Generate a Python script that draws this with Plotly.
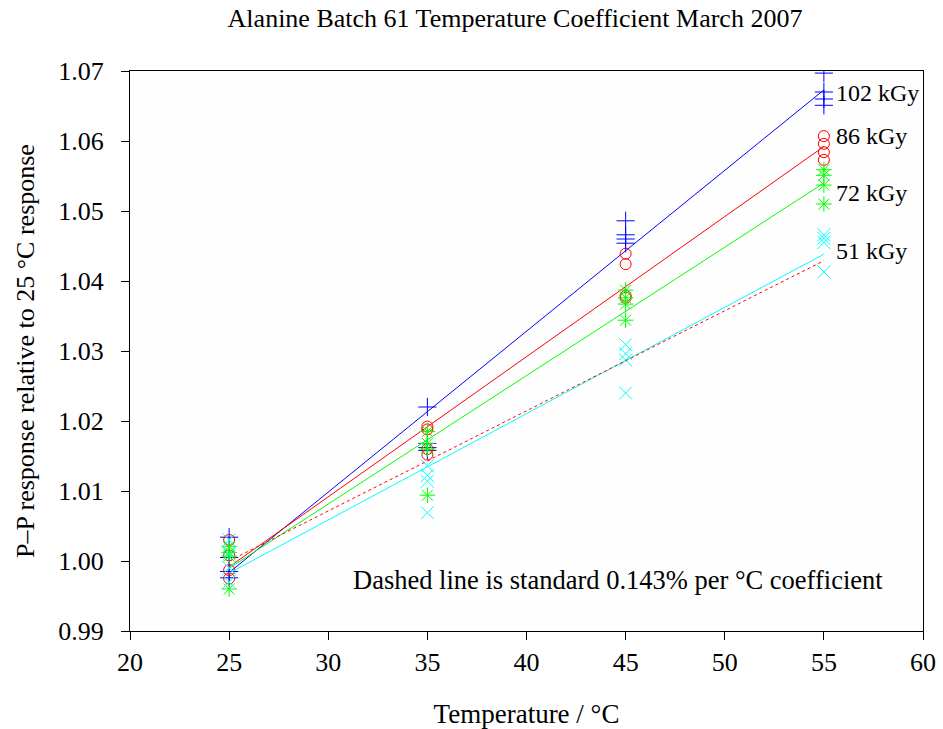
import numpy as np
import plotly.graph_objects as go

# Measurement temperatures (°C), four dosimeters at each
temps = [25, 25, 25, 25, 35, 35, 35, 35, 45, 45, 45, 45, 55, 55, 55, 55]

# Peak-to-peak response relative to the 25 °C mean, per dose level
resp_102 = [1.0034, 1.0005, 0.9985, 0.9976,
            1.0220, 1.0168, 1.0162, 1.0158,
            1.0486, 1.0466, 1.0460, 1.0454,
            1.0697, 1.0670, 1.0660, 1.0651]
resp_86 = [1.0030, 1.0008, 0.9987, 0.9975,
           1.0192, 1.0188, 1.0160, 1.0152,
           1.0439, 1.0424, 1.0379, 1.0376,
           1.0607, 1.0596, 1.0584, 1.0573]
resp_72 = [1.0021, 1.0012, 1.0007, 0.9960,
           1.0185, 1.0168, 1.0160, 1.0094,
           1.0387, 1.0376, 1.0367, 1.0344,
           1.0559, 1.0551, 1.0537, 1.0510]
resp_51 = [1.0030, 1.0010, 0.9990, 0.9970,
           1.0136, 1.0122, 1.0114, 1.0069,
           1.0309, 1.0296, 1.0287, 1.0240,
           1.0466, 1.0461, 1.0455, 1.0413]

dose_labels = ["102 kGy", "86 kGy", "72 kGy", "51 kGy"]
label_y = [1.0668, 1.0607, 1.0526, 1.0443]
colors = ["#0000ff", "#ff0000", "#00ff00", "#00ffff"]
symbols = ["cross-thin-open", "circle-open", "asterisk-open", "x-thin-open"]
marker_sizes = [13, 11, 13, 13]

std_coeff = 0.00143  # standard 0.143% per °C
fit_range = [25, 55]

x_ticks = [20, 25, 30, 35, 40, 45, 50, 55, 60]
y_ticks = [0.99, 1.00, 1.01, 1.02, 1.03, 1.04, 1.05, 1.06, 1.07]
y_tick_text = ["0.99", "1.00", "1.01", "1.02", "1.03", "1.04", "1.05", "1.06", "1.07"]

FONT = "Liberation Serif"

fig = go.Figure()

series = [resp_102, resp_86, resp_72, resp_51]
for resp, col, sym, ms in zip(series, colors, symbols, marker_sizes):
    slope, icpt = np.polyfit(temps, resp, 1)
    fx = np.array(fit_range, dtype=float)
    fig.add_trace(go.Scatter(x=fx, y=icpt + slope * fx, mode="lines",
                             line=dict(color=col, width=1), showlegend=False,
                             hoverinfo="skip"))
    fig.add_trace(go.Scatter(x=temps, y=resp, mode="markers",
                             marker=dict(symbol=sym, size=ms, color=col,
                                         line=dict(color=col, width=1)),
                             showlegend=False))

sx = np.array(fit_range, dtype=float)
fig.add_trace(go.Scatter(x=sx, y=1 + std_coeff * (sx - 25), mode="lines",
                         line=dict(color="#ff0000", width=1, dash="3px,3px"),
                         showlegend=False, hoverinfo="skip"))

for txt, yv in zip(dose_labels, label_y):
    fig.add_annotation(x=55.5, y=yv, text=txt, showarrow=False,
                       xanchor="left", yanchor="middle",
                       font=dict(family=FONT, size=24, color="black"))

fig.add_annotation(x=0.279, xref="x domain", y=0.9973, yref="y",
                   text="Dashed line is standard 0.143% per °C coefficient",
                   showarrow=False, xanchor="left", yanchor="middle",
                   font=dict(family=FONT, size=26.5, color="black"))

fig.update_layout(
    width=943, height=729,
    margin=dict(l=130, r=20, t=71, b=98),
    paper_bgcolor="white", plot_bgcolor="#fefefe",
    font=dict(family=FONT, color="black"),
    title=dict(text="Alanine Batch 61 Temperature Coefficient March 2007",
               x=0.4855, xref="paper", xanchor="center", y=0.975, yanchor="middle",
               font=dict(family=FONT, size=26, color="black")),
    xaxis=dict(range=[20, 60], tickvals=x_ticks, ticks="outside", ticklen=8,
               tickcolor="black", showline=True, linecolor="black", linewidth=1,
               mirror=True, showgrid=False, zeroline=False, automargin=False,
               tickfont=dict(family=FONT, size=26),
               title=dict(text="Temperature / °C", standoff=34,
                          font=dict(family=FONT, size=27))),
    yaxis=dict(range=[0.99, 1.07], tickvals=y_ticks, ticktext=y_tick_text,
               ticks="outside", ticklen=8, tickcolor="black", showline=True,
               linecolor="black", linewidth=1, mirror=True, showgrid=False,
               zeroline=False, automargin=False, tickfont=dict(family=FONT, size=26),
               ticklabelstandoff=12,
               title=dict(text="P–P response relative to 25 °C response",
                          standoff=16, font=dict(family=FONT, size=26))),
)

fig.write_html("out.html")
